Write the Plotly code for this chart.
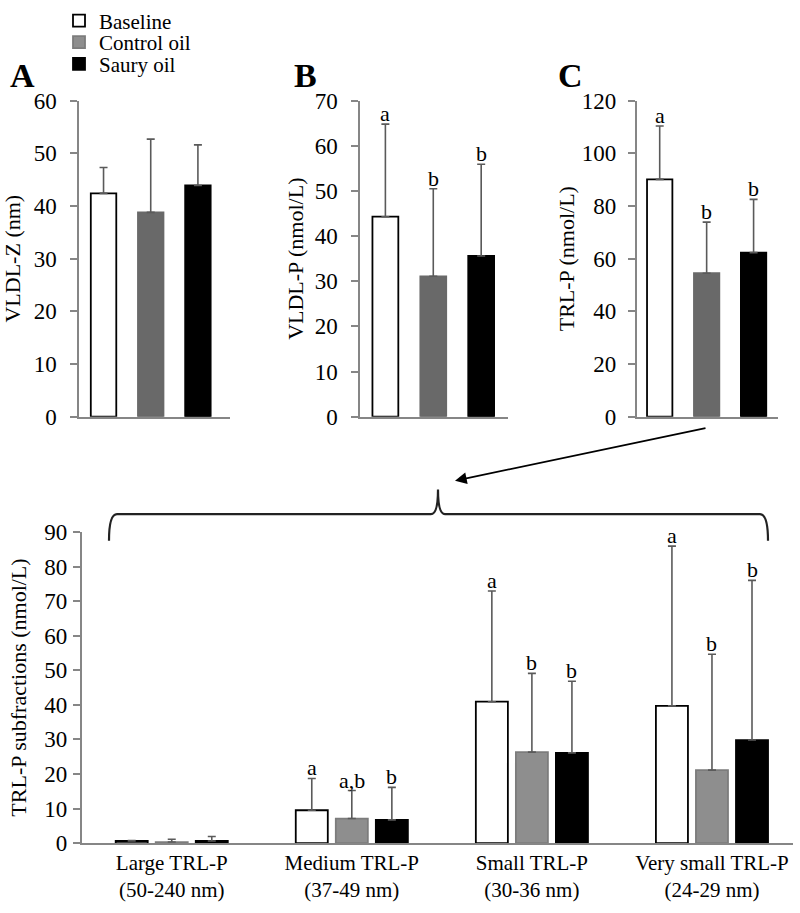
import plotly.graph_objects as go

# ---------------- data ----------------
groups = ["Baseline", "Control oil", "Saury oil"]

vldl_z_mean = [42.4, 38.8, 43.9]
vldl_z_sd = [4.9, 13.9, 7.7]
vldl_z_letters = ["", "", ""]

vldl_p_mean = [44.3, 31.1, 35.6]
vldl_p_sd = [20.5, 19.4, 20.3]
vldl_p_letters = ["a", "b", "b"]

trl_p_mean = [90.1, 54.5, 62.3]
trl_p_sd = [20.3, 19.4, 20.2]
trl_p_letters = ["a", "b", "b"]

sub_categories = ["Large TRL-P<br>(50-240 nm)", "Medium TRL-P<br>(37-49 nm)",
                  "Small TRL-P<br>(30-36 nm)", "Very small TRL-P<br>(24-29 nm)"]
sub_baseline = [0.6, 9.5, 40.9, 39.7]
sub_baseline_sd = [0.1, 9.2, 32.0, 46.2]
sub_control = [0.3, 7.1, 26.3, 21.1]
sub_control_sd = [0.8, 8.1, 22.8, 33.5]
sub_saury = [0.6, 6.7, 26.1, 29.8]
sub_saury_sd = [1.3, 9.4, 20.7, 46.2]
sub_baseline_letters = ["", "a", "a", "a"]
sub_control_letters = ["", "a,b", "b", "b"]
sub_saury_letters = ["", "b", "b", "b"]

# ---------------- style ----------------
FONT = "Liberation Serif, Times New Roman, serif"
AXIS_GREY = "#868686"
ERR_GREY = "#5a5a5a"
W, H = 800, 913
BARGAP = 0.333
TOP_BAR_WIDTH = 0.54
YSHIFT = 4  # small global vertical correction (pixels)

def px(x):
    return x / W

def py(y):
    return 1 - (y - YSHIFT) / H

fig = go.Figure()

top_fill = ["white", "#696969", "black"]
top_line = ["black", "#696969", "black"]

top_panels = [
    ("x", "y", vldl_z_mean, vldl_z_sd, vldl_z_letters),
    ("x2", "y2", vldl_p_mean, vldl_p_sd, vldl_p_letters),
    ("x3", "y3", trl_p_mean, trl_p_sd, trl_p_letters),
]

letter_font = dict(family=FONT, size=22, color="black")
annotations = []

for xa, ya, mean, sd, letters in top_panels:
    fig.add_trace(go.Bar(
        x=groups, y=mean, xaxis=xa, yaxis=ya, width=TOP_BAR_WIDTH,
        marker=dict(color=top_fill, line=dict(color=top_line, width=1.8)),
        error_y=dict(type="data", array=sd, arrayminus=[0] * len(sd), symmetric=False,
                     color=ERR_GREY, thickness=1.6, width=4),
        showlegend=False, hoverinfo="y",
    ))
    for i, (m, s, lt) in enumerate(zip(mean, sd, letters)):
        if lt:
            annotations.append(dict(x=i, y=m + s, xref=xa, yref=ya, text=lt, showarrow=False,
                                    yanchor="bottom", yshift=-4, font=letter_font))

bottom_series = [
    ("Baseline", sub_baseline, sub_baseline_sd, sub_baseline_letters, "white", "black", "legend"),
    ("Control oil", sub_control, sub_control_sd, sub_control_letters, "#8e8e8e", "#7c7c7c", "legend2"),
    ("Saury oil", sub_saury, sub_saury_sd, sub_saury_letters, "black", "black", "legend3"),
]
slot = (1 - BARGAP) / 3
for k, (name, mean, sd, letters, fill, line, leg) in enumerate(bottom_series):
    fig.add_trace(go.Bar(
        x=sub_categories, y=mean, name=name, xaxis="x4", yaxis="y4", legend=leg,
        marker=dict(color=fill, line=dict(color=line, width=1.8)),
        error_y=dict(type="data", array=sd, arrayminus=[0] * len(sd), symmetric=False,
                     color=ERR_GREY, thickness=1.6, width=4),
    ))
    for i, (m, s, lt) in enumerate(zip(mean, sd, letters)):
        if lt:
            annotations.append(dict(x=i + (k - 1) * slot, y=m + s, xref="x4", yref="y4", text=lt,
                                    showarrow=False, yanchor="bottom", yshift=-4, font=letter_font))

# panel letters
for lt, cx in [("A", 22), ("B", 305), ("C", 570)]:
    annotations.append(dict(x=px(cx), y=py(66), xref="paper", yref="paper", text="<b>%s</b>" % lt,
                            showarrow=False, xanchor="center", yanchor="middle",
                            font=dict(family=FONT, size=34, color="black")))

# arrow from panel C to bracket
annotations.append(dict(x=px(455), y=py(478), xref="paper", yref="paper", text="",
                        showarrow=True, ax=707 - 455, ay=425 - 478,
                        arrowhead=2, arrowsize=1.3, arrowwidth=1.8, arrowcolor="black"))

# bracket
bracket = ("M {a},{b} Q {a},{c} {d},{c} L {e},{c} Q {f},{c} {f},{g} Q {f},{c} {h},{c} "
           "L {i},{c} Q {j},{c} {j},{b}").format(
    a=px(109), b=py(539), c=py(512), d=px(117), e=px(431), f=px(438), g=py(487),
    h=px(445), i=px(760), j=px(768))
shapes = [dict(type="path", path=bracket, xref="paper", yref="paper",
               line=dict(color="#222222", width=2.2))]

tickfont = dict(family=FONT, size=23, color="black")
xtickfont = dict(family=FONT, size=21, color="black")
titlefont = dict(family=FONT, size=22, color="black")

def yax(domain, rng, dtick, title, anchor, standoff, labelgap):
    return dict(domain=domain, range=rng, dtick=dtick, tick0=0, anchor=anchor,
                automargin=False,
                showline=True, linecolor=AXIS_GREY, linewidth=1.5,
                ticks="outside", ticklen=7, tickcolor=AXIS_GREY, tickwidth=1.5,
                ticklabelstandoff=labelgap,
                showgrid=False, zeroline=False, tickfont=tickfont,
                title=dict(text=title, font=titlefont, standoff=standoff))

def xax(domain, rng, anchor, labels):
    return dict(domain=domain, range=rng, type="category", anchor=anchor,
                automargin=False,
                showline=True, linecolor=AXIS_GREY, linewidth=1.5, ticks="",
                showgrid=False, zeroline=False, showticklabels=labels, tickfont=xtickfont)

TOP_DOM = [py(413), py(92)]
BOT_DOM = [py(846), py(530)]

def leg(ycenter):
    return dict(x=px(59), y=py(ycenter), xanchor="left", yanchor="middle",
                font=dict(family=FONT, size=21, color="black"),
                bgcolor="rgba(0,0,0,0)", borderwidth=0)

fig.update_layout(
    width=W, height=H, margin=dict(l=0, r=0, t=0, b=0),
    paper_bgcolor="white", plot_bgcolor="white",
    barmode="group", bargap=BARGAP, bargroupgap=0.2,
    font=dict(family=FONT, color="black"),
    xaxis=xax([px(79), px(230)], [-0.52, 2.68], "y", False),
    yaxis=yax(TOP_DOM, [0, 60], 10, "VLDL-Z (nm)", "x", 14, 9),
    xaxis2=xax([px(360), px(508)], [-0.53, 2.56], "y2", False),
    yaxis2=yax(TOP_DOM, [0, 70], 10, "VLDL-P (nmol/L)", "x2", 5, 9),
    xaxis3=xax([px(636.7), px(778)], [-0.49, 2.52], "y3", False),
    yaxis3=yax(TOP_DOM, [0, 120], 20, "TRL-P (nmol/L)", "x3", 1, 7),
    xaxis4=xax([px(81.7), px(793)], [-0.5, 3.45], "y4", True),
    yaxis4=yax(BOT_DOM, [0, 90], 10, "TRL-P subfractions (nmol/L)", "x4", 12, 1),
    legend=leg(11), legend2=leg(33), legend3=leg(55),
    annotations=annotations, shapes=shapes,
)

fig.write_html(
    "out.html", config={"displayModeBar": False},
    post_script=("document.body.style.margin='0px';document.body.style.padding='0px';"
                 "document.documentElement.style.overflow='hidden';window.scrollTo(0,0);"))
